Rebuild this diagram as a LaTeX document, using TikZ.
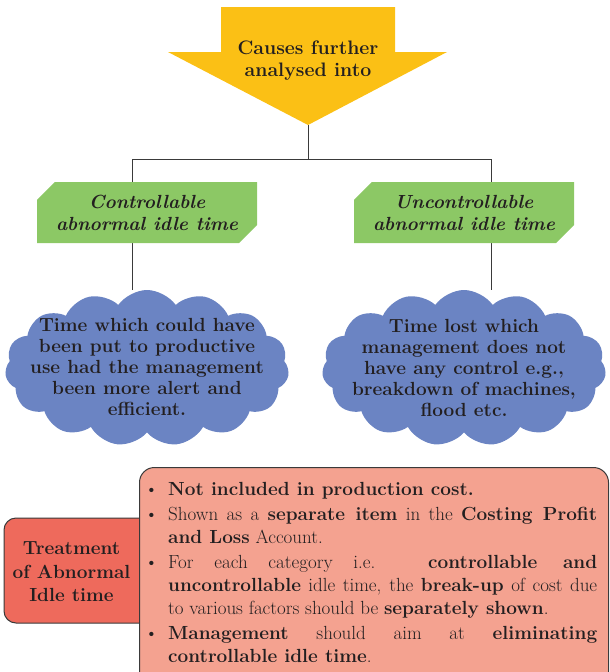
\documentclass[tikz,border=0pt]{standalone}
\usepackage{fontspec}
\usepackage{enumitem}
\usetikzlibrary{positioning, shapes.misc, shapes.symbols, backgrounds}

\definecolor{arrowyellow}{HTML}{FBC015}
\definecolor{catgreen}{HTML}{8CC865}
\definecolor{cloudblue}{HTML}{6B84C3}
\definecolor{treatred}{HTML}{EE6A5C}
\definecolor{notesalmon}{HTML}{F4A290}
\definecolor{inkdark}{HTML}{231F20}
\definecolor{linegrey}{HTML}{3A3A3A}

\begin{document}
\begin{tikzpicture}[
                x=1pt, y=-1pt,
                arrowtext/.style={font=\bfseries\fontsize{19.5}{22}\selectfont, align=center, text=inkdark},
                catbox/.style={
                  chamfered rectangle,
                  chamfered rectangle corners={north west, south east},
                  chamfered rectangle xsep=15pt,
                  minimum width=220pt, minimum height=61pt, inner sep=0pt,
                  fill=catgreen, text=inkdark, align=center,
                  font=\bfseries\itshape\fontsize{19}{22}\selectfont
                },
                cloudnode/.style={
                  cloud, cloud puffs=15, cloud puff arc=110, cloud ignores aspect,
                  minimum width=284pt, minimum height=156pt, inner sep=0pt,
                  fill=cloudblue
                },
                cloudtext/.style={font=\bfseries\fontsize{19}{21}\selectfont, align=center, text=inkdark},
                treatbox/.style={draw=linegrey, line width=1pt, fill=treatred, rounded corners=12pt,
                  minimum width=156pt, minimum height=105pt},
                treattext/.style={font=\bfseries\fontsize{19}{23.5}\selectfont, align=center, text=inkdark},
                notebox/.style={draw=linegrey, line width=1pt, fill=notesalmon, rounded corners=15pt,
                  minimum width=469pt, minimum height=230pt},
                notetext/.style={text width=451pt, inner sep=0pt, text=inkdark, align=justify,
                  font=\fontsize{19}{23}\selectfont},
                conn/.style={draw=linegrey, line width=1pt}
              ]
              \useasboundingbox (0,0) rectangle (610,672);

              % yellow arrow on top
              \fill[arrowyellow] (221,7) -- (395,7) -- (395,52) -- (447,52) -- (308,125)
                -- (168,52) -- (221,52) -- cycle;
              \coordinate (tip) at (308,125);
              \coordinate (fork) at (308,159);
              \node (causes) [arrowtext] at (308,61) {Causes further\\analysed into};

              % the two kinds
              \node (ctrl) [catbox] at (147,212.5) {Controllable\\abnormal idle time};
              \node (unctrl) [catbox] at (464,212.5) {Uncontrollable\\abnormal idle time};

              \node (cloudL) [cloudnode] at (147,368) {};
              \node (cloudR) [cloudnode] at (464,368) {};
              \node (descL) [cloudtext] at (147,367) {Time which could have\\been put to productive\\use had the management\\been more alert and\\efficient.};
              \node (descR) [cloudtext] at (464,368) {Time lost which\\management does not\\have any control e.g.,\\breakdown of machines,\\flood etc.};

              % Draw lines
              \begin{scope}[on background layer]
                \draw[conn] (tip) -- (fork) -| ([xshift=-15pt]ctrl.north);
                \draw[conn] (fork) -| ([xshift=27pt]unctrl.north);
                \draw[conn] ([xshift=-15pt]ctrl.south) -- ([xshift=-15pt]ctrl.south |- cloudL.north);
                \draw[conn] ([xshift=27pt]unctrl.south) -- ([xshift=27pt]unctrl.south |- cloudR.north);
              \end{scope}

              % treatment
              \node (treat) [treatbox] at (82,570.5) {};
              \node (notes) [notebox, anchor=north west] at (139,467) {};
              \node (treatlbl) [treattext] at (71.5,572) {Treatment\\of Abnormal\\Idle time};
              \node (points) [notetext, anchor=north west] at (146,472) {%
                \begin{itemize}[leftmargin=22pt, labelsep=10pt, topsep=0pt, partopsep=0pt,
                  parsep=0pt, itemsep=2pt, label={\textbullet}]
                  \item \textbf{Not included in production cost.}
                  \item Shown as a \textbf{separate item} in the \textbf{Costing Profit}\linebreak
                    \textbf{and Loss} Account.
                  \item For each category i.e. \textbf{controllable and}\linebreak
                    \textbf{uncontrollable} idle time, the \textbf{break-up} of cost due\linebreak
                    to various factors should be \textbf{separately shown}.
                  \item \textbf{Management} should aim at \textbf{eliminating}\linebreak
                    \textbf{controllable idle time}.
                \end{itemize}};

            \end{tikzpicture}
\end{document}
